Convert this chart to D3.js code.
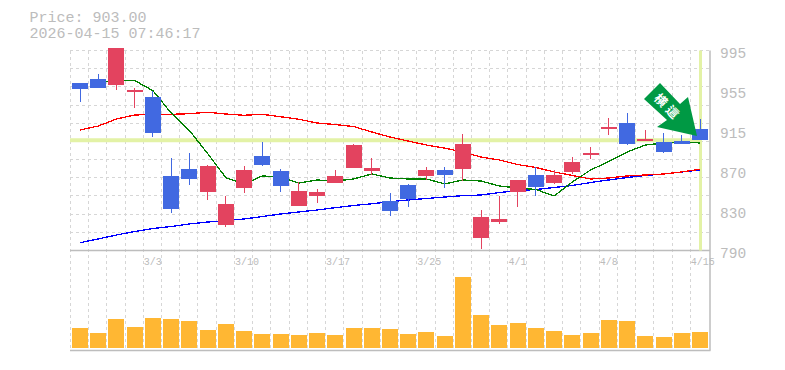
<!DOCTYPE html>
<html>
<head>
<meta charset="utf-8">
<script src="https://cdn.jsdelivr.net/npm/d3@7"></script>
<style>
	html, body { margin: 0; padding: 0; background: #fff; }
	svg { display: block; }
	text { font-family: "Liberation Mono", monospace; fill: #bcbcbc; }
</style>
</head>
<body>
<div id="chart"></div>
<script>
const dates = ["2/25","2/26","2/27","3/2","3/3","3/4","3/5","3/6","3/9","3/10","3/11","3/12","3/13","3/16","3/17","3/18","3/19","3/23","3/24","3/25","3/26","3/27","3/30","3/31","4/1","4/2","4/3","4/6","4/7","4/8","4/9","4/10","4/13","4/14","4/15"];
const dateLabels = ["3/3","3/10","3/17","3/25","4/1","4/8","4/15"];
const priceTicks = [995,954,913,872,831,790];

const open  = [961.7,965.8,959.6,952.8,947.3,866.4,873.5,849.9,816.1,854.1,886.9,871.5,835.6,845.9,859.2,874.6,871.5,840.7,857.1,866.4,872.5,873.5,802.8,819.2,850,867.4,859.2,870.5,887.9,914.5,920.7,902.2,901.2,902.2,914.5];
const high  = [961.7,970.9,997.6,956.6,953.5,884.5,889.9,877.6,845.9,876.6,901.2,873.5,860.2,853,872.5,899.2,884.8,848.9,858.2,875.6,875.6,909.4,831.5,845.9,862.3,875.6,872.5,885.8,896.1,925.8,931,913.5,910.4,908.4,924.8];
const low   = [942.5,956.9,954.8,936.4,906.6,828.7,857.1,841.8,814.1,848.9,876.6,850,835.6,838.7,859.2,874.6,867.4,825.4,834.6,862.3,854.1,861.2,791.5,817.2,834.6,845.9,858.2,868.4,883.8,908.4,898.1,902.2,889.9,899.2,903];
const close = [955.9,956.9,997.6,954.5,910.7,832.5,863.3,876.6,837.7,872.5,877.6,856.1,851,850,866.4,898.1,874.6,830.5,842.8,872.5,867.4,899.2,824.3,822.3,862.3,855.1,867.4,880.7,889.9,916.6,899.2,904.3,890.9,899.2,903];

const maShort = [null,961.7,964.8,964.2,953.8,930.9,913,889.4,864.6,858.2,866.4,865.3,859.2,862.3,861.2,863.3,868.4,864.3,863.3,863.3,858.2,862.3,861.2,856.1,854.1,852.5,845.9,860.2,872.5,881.2,890.9,898.1,900.2,901.2,900.2];
const maMid   = [913.5,917.6,924.8,928.9,929.4,929.6,930.2,931.7,929.9,928.6,929.6,927.1,924.5,920.7,919.1,917.1,911.5,906.3,902.2,898.1,895,890.9,885.8,882.8,878.1,875.1,870.5,866.9,863.3,864.3,866.4,867.4,868.4,870.5,873.2];
const maLong  = [798,801.8,805.9,809.5,812.5,814.6,817.2,819.2,820.7,822.3,824.8,827.4,829.5,831.5,833.9,836.1,837.9,840,841.8,843.3,844.8,846.2,846.9,849.4,851.5,852.5,854.6,856.6,859.7,862.3,864.8,866.9,868.4,870.5,872.5];

const volumes = [20,15,29,21,30,29,27,18,24,17,14,14,13,15,13,20,20,19,14,16,12,71,33,23,25,20,17,13,15,28,27,12,11,15,16];

const currentPrice = 903;
const arrowLabel = "横這";

const width = 785, height = 370;
const gridLeft = 70, gridRight = 710, priceTop = 50.5, priceBottom = 250.5, volTop = 248, volBottom = 348, axisBottom = 350.5;

const svg = d3.select("#chart").append("svg")
	.attr("width", width)
	.attr("height", height);

const x = d3.scalePoint().domain(dates).range([80, 700]);
const y = d3.scaleLinear().domain([790, 995]).range([priceBottom, priceTop]);
const yVol = d3.scaleLinear().domain([0, 100]).range([volBottom, volTop]);

const cellOffset = 9.7;
const crisp = v => Math.floor(v) + 0.5;

// grid
const grid = svg.append("g")
	.attr("stroke", "#d6d6d6")
	.attr("stroke-dasharray", "3,3")
	.attr("shape-rendering", "crispEdges");

grid.selectAll(".v")
	.data(dates)
	.enter().append("line")
	.attr("x1", d => crisp(x(d) - cellOffset))
	.attr("x2", d => crisp(x(d) - cellOffset))
	.attr("y1", priceTop)
	.attr("y2", axisBottom);

grid.selectAll(".h")
	.data(d3.range(1, 12))
	.enter().append("line")
	.attr("x1", gridLeft)
	.attr("x2", gridRight)
	.attr("y1", d => crisp(y(790 + d * 205 / 11)))
	.attr("y2", d => crisp(y(790 + d * 205 / 11)));

// frame
const frame = svg.append("g").attr("stroke", "#bdbdbd").attr("stroke-width", 1.5);
frame.append("line").attr("x1", gridLeft).attr("x2", gridRight).attr("y1", priceBottom).attr("y2", priceBottom);
frame.append("line").attr("x1", gridLeft).attr("x2", gridRight + 0.5).attr("y1", axisBottom).attr("y2", axisBottom);
frame.append("line").attr("x1", gridRight).attr("x2", gridRight).attr("y1", priceTop).attr("y2", axisBottom);

// current price and last day highlight
svg.append("line")
	.attr("x1", gridLeft).attr("x2", x(dates[34]) + 2)
	.attr("y1", y(currentPrice)).attr("y2", y(currentPrice))
	.attr("stroke", "#e3f2a6").attr("stroke-width", 4);
svg.append("line")
	.attr("x1", x(dates[34]) + 0.5).attr("x2", x(dates[34]) + 0.5)
	.attr("y1", priceTop).attr("y2", priceBottom)
	.attr("stroke", "#e3f2a6").attr("stroke-width", 3);

// moving averages
const maLine = d3.line()
	.defined(d => d[1] !== null)
	.x(d => x(d[0]))
	.y(d => y(d[1]));

[[maLong, "#0000ff"], [maMid, "#ff0000"], [maShort, "#008000"]].forEach(s => {
	svg.append("path")
		.datum(dates.map((d, i) => [d, s[0][i]]))
		.attr("d", maLine)
		.attr("fill", "none")
		.attr("stroke", s[1])
		.attr("stroke-width", 1.3)
		.attr("shape-rendering", "crispEdges");
});

// candles
const upColor = "#e3435f", downColor = "#4169e1";
const candles = svg.append("g").attr("shape-rendering", "crispEdges");

candles.selectAll(".wick")
	.data(dates)
	.enter().append("line")
	.attr("x1", d => crisp(x(d)))
	.attr("x2", d => crisp(x(d)))
	.attr("y1", (d, i) => Math.round(y(high[i])))
	.attr("y2", (d, i) => Math.round(y(low[i])))
	.attr("stroke", (d, i) => close[i] > open[i] ? upColor : downColor);

candles.selectAll(".body")
	.data(dates)
	.enter().append("rect")
	.attr("x", d => Math.round(x(d)) - 8)
	.attr("width", 16)
	.attr("y", (d, i) => Math.round(y(Math.max(open[i], close[i]))))
	.attr("height", (d, i) => Math.round(y(Math.min(open[i], close[i]))) - Math.round(y(Math.max(open[i], close[i]))))
	.attr("fill", (d, i) => close[i] > open[i] ? upColor : downColor);

// volume
svg.append("g")
	.attr("shape-rendering", "crispEdges")
	.selectAll("rect")
	.data(dates)
	.enter().append("rect")
	.attr("x", d => Math.round(x(d)) - 8)
	.attr("width", 16)
	.attr("y", (d, i) => yVol(volumes[i]))
	.attr("height", (d, i) => yVol(0) - yVol(volumes[i]))
	.attr("fill", "#ffb733");

// axes
const axisRight = d3.axisRight(y)
	.tickValues(priceTicks)
	.tickSize(0)
	.tickFormat(d => Math.round(d / 5) * 5);
const gRight = svg.append("g")
	.attr("transform", "translate(" + 712 + ",0)")
	.call(axisRight);
gRight.select(".domain").remove();
gRight.selectAll("text")
	.attr("x", 8)
	.attr("dy", 7)
	.style("font-size", "14.5px");

const axisDates = d3.axisBottom(x)
	.tickValues(dateLabels)
	.tickSize(0);
const gDates = svg.append("g")
	.attr("transform", "translate(0," + 265 + ")")
	.call(axisDates);
gDates.select(".domain").remove();
gDates.selectAll("text")
	.attr("text-anchor", "start")
	.attr("x", -cellOffset)
	.attr("y", 0)
	.attr("dy", 0)
	.style("font-size", "10px");

// header
svg.append("text").attr("x", 29.5).attr("y", 22).style("font-size", "15px").text("Price: " + currentPrice.toFixed(2));
svg.append("text").attr("x", 29.5).attr("y", 38).style("font-size", "15px").text("2026-04-15 07:46:17");

// signal arrow
const arrow = [[660,83],[644,99],[667,120],[657,127],[697,136],[688,97],[680,104]];
svg.append("polygon")
	.attr("points", arrow.join(" "))
	.attr("fill", "#009944");
svg.append("text")
	.attr("transform", "translate(668,107.5) rotate(45)")
	.attr("text-anchor", "middle")
	.attr("dy", "0.36em")
	.style("font-family", '"Noto Sans CJK JP"')
	.style("font-weight", "700")
	.style("font-size", "12.5px")
	.style("letter-spacing", "4px")
	.style("fill", "#fff")
	.text(arrowLabel);
</script>
</body>
</html>
